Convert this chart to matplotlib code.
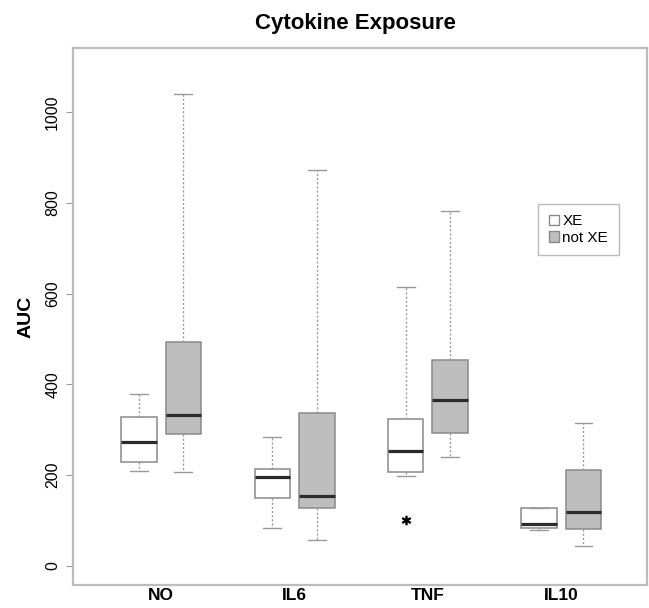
import matplotlib
matplotlib.use("Agg")
import matplotlib.pyplot as plt
from matplotlib.patches import Patch

plt.rcParams['font.family'] = ['Liberation Sans', 'DejaVu Sans']

cytokines = ['NO', 'IL6', 'TNF', 'IL10']
groups = ['XE', 'not XE']

# box stats, order: XE then not XE for each cytokine
whislo = [209, 207, 83, 57, 198, 239, 80, 44]
q1 = [228, 291, 150, 128, 207, 292, 84, 82]
med = [272, 332, 196, 154, 253, 365, 93, 118]
q3 = [327, 494, 213, 337, 323, 454, 128, 211]
whishi = [379, 1039, 283, 872, 615, 781, 128, 315]
fliers = [[], [], [], [], [102], [], [], []]

positions = [1, 2, 4, 5, 7, 8, 10, 11]
fills = ['white', '#bebebe']

stats = []
for i in range(len(med)):
    stats.append(dict(med=med[i], q1=q1[i], q3=q3[i],
                      whislo=whislo[i], whishi=whishi[i], fliers=fliers[i]))

fig = plt.figure(figsize=(6.49, 6.08), dpi=100)
ax = fig.add_axes([0.112, 0.038, 0.885, 0.883])

edge = '#8a8a8a'
bp = ax.bxp(stats, positions=positions, widths=0.8, patch_artist=True,
            boxprops=dict(edgecolor=edge, linewidth=1.1),
            medianprops=dict(color='#2b2b2b', linewidth=2.3),
            whiskerprops=dict(color='#9a9a9a', linestyle=(0, (1.5, 1.5)), linewidth=1.0),
            capprops=dict(color='#9a9a9a', linewidth=1.0),
            capwidths=0.4,
            flierprops=dict(marker='$*$', markersize=6, markerfacecolor='black',
                            markeredgecolor='black', linestyle='none'))
for j, box in enumerate(bp['boxes']):
    box.set_facecolor(fills[j % 2])

ax.set_xlim(-0.49, 12.43)
ax.set_ylim(-42, 1141)
ax.set_xticks([1.5, 4.5, 7.5, 10.5])
ax.set_xticklabels(cytokines, fontsize=12.5, fontweight='bold')
ax.tick_params(axis='x', length=0, pad=2)
ax.set_yticks([0, 200, 400, 600, 800, 1000])
ax.set_yticklabels(['0', '200', '400', '600', '800', '1000'], rotation=90,
                   va='center', fontsize=11.5)
ax.tick_params(axis='y', length=5, color='#999999', pad=4)
ax.set_ylabel('AUC', fontsize=14, fontweight='bold', labelpad=8)

for s in ax.spines.values():
    s.set_color('#bdbdbd')
    s.set_linewidth(1.6)

fig.text(0.547, 0.961, 'Cytokine Exposure', ha='center', va='center',
         fontsize=16, fontweight='bold')

handles = [Patch(facecolor=fills[k], edgecolor=edge, linewidth=1.0) for k in range(2)]
leg = ax.legend(handles, groups, loc='upper left', bbox_to_anchor=(0.81, 0.71),
                fontsize=11, frameon=True, fancybox=False, handlelength=0.7,
                handleheight=0.7, handletextpad=0.2, borderpad=0.7,
                labelspacing=0.15, borderaxespad=0)
leg.get_frame().set_edgecolor('#aaaaaa')
leg.get_frame().set_linewidth(1.0)

fig.savefig('out.png', dpi=100)
